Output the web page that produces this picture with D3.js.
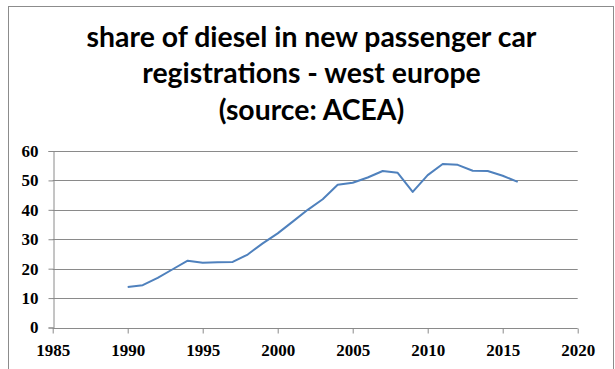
<!DOCTYPE html>
<html>
<head>
<meta charset="utf-8">
<script src="https://cdn.jsdelivr.net/npm/d3@7"></script>
<style>
  html, body { margin: 0; padding: 0; background: #fff; }
  svg { display: block; }
</style>
</head>
<body>
<svg id="chart" width="615" height="369"></svg>
<script>
const titleLines = ["share of diesel in new passenger car", "registrations - west europe", "(source: ACEA)"];
const years = [1990, 1991, 1992, 1993, 1994, 1995, 1996, 1997, 1998, 1999, 2000, 2001, 2002, 2003, 2004, 2005, 2006, 2007, 2008, 2009, 2010, 2011, 2012, 2013, 2014, 2015, 2016];
const dieselShare = [13.8, 14.4, 16.9, 19.8, 22.7, 22.0, 22.2, 22.3, 24.8, 28.6, 32.0, 36.0, 40.0, 43.6, 48.5, 49.2, 51.0, 53.2, 52.6, 46.1, 51.8, 55.6, 55.3, 53.3, 53.2, 51.6, 49.5];
const xTicks = [1985, 1990, 1995, 2000, 2005, 2010, 2015, 2020];
const yTicks = [0, 10, 20, 30, 40, 50, 60];

const svg = d3.select("#chart");

// outer frame
svg.append("rect")
  .attr("x", 8.5).attr("y", 6.5)
  .attr("width", 605).attr("height", 380)
  .attr("fill", "#fff").attr("stroke", "#8c8c8c").attr("stroke-width", 1);

const x = d3.scaleLinear().domain([1985, 2020]).range([52.7, 577.7]);
const y = d3.scaleLinear().domain([0, 60]).range([327.5, 151]);

// gridlines
svg.append("g").selectAll("line")
  .data(yTicks.filter(d => d > 0))
  .join("line")
  .attr("x1", x(1985)).attr("x2", x(2020))
  .attr("y1", d => Math.round(y(d)) + 0.5).attr("y2", d => Math.round(y(d)) + 0.5)
  .attr("stroke", "#8a8a8a").attr("stroke-width", 1);

const tickFont = "'Liberation Serif', serif";

// y axis
const yAxis = svg.append("g")
  .attr("transform", `translate(${Math.round(x(1985)) + 0.5},0)`)
  .call(d3.axisLeft(y).tickValues(yTicks).tickSize(5).tickPadding(10).tickFormat(d3.format("d")));
yAxis.selectAll("path, line").attr("stroke", "#8a8a8a");
yAxis.selectAll("text")
  .attr("font-family", tickFont).attr("font-weight", "bold").attr("font-size", 17).attr("fill", "#000");

// x axis
const xAxis = svg.append("g")
  .attr("transform", `translate(0,${Math.round(y(0)) + 0.5})`)
  .call(d3.axisBottom(x).tickValues(xTicks).tickSize(5).tickPadding(10).tickFormat(d3.format("d")));
xAxis.selectAll("path, line").attr("stroke", "#8a8a8a");
xAxis.select(".domain").attr("d", `M${x(1985)},0H${x(2020)}`);
xAxis.selectAll("text")
  .attr("font-family", tickFont).attr("font-weight", "bold").attr("font-size", 17).attr("fill", "#000");

// line
const line = d3.line().x((d, i) => x(years[i])).y(d => y(d));
svg.append("path")
  .datum(dieselShare)
  .attr("d", line)
  .attr("fill", "none")
  .attr("stroke", "#4f81bd")
  .attr("stroke-width", 2)
  .attr("stroke-linejoin", "round");

// title
const title = svg.append("g");
const baselines = [46.7, 83.3, 120];
titleLines.forEach((t, i) => {
  title.append("text")
    .attr("x", 311.5).attr("y", baselines[i])
    .attr("text-anchor", "middle")
    .attr("font-family", "Lato, 'Open Sans', sans-serif")
    .attr("font-weight", "bold")
    .attr("font-size", 27)
    .attr("fill", "#000")
    .text(t);
});
// fit title width to the reference (line 1 about 450px wide)
const w = title.select("text").node().getComputedTextLength();
const fs = 27 * 450 / w;
title.selectAll("text").attr("font-size", fs);
</script>
</body>
</html>
